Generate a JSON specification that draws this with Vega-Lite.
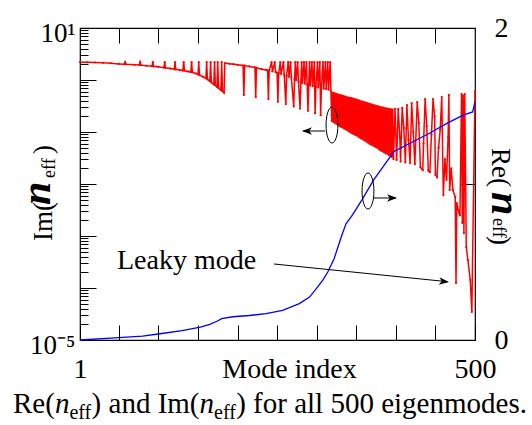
{
  "$schema": "https://vega.github.io/schema/vega-lite/v6.json",
  "width": 395,
  "height": 312,
  "autosize": {"type": "none"},
  "padding": {"left": 80, "top": 28, "right": 57, "bottom": 85},
  "background": "white",
  "config": {
    "font": "Liberation Serif",
    "view": {"stroke": "#000", "strokeWidth": 1.2},
    "axis": {
      "domain": false,
      "grid": false,
      "tickColor": "#000",
      "tickWidth": 1,
      "labelColor": "#000",
      "titleColor": "#000",
      "labelFont": "Liberation Serif",
      "titleFont": "Liberation Serif",
      "titleFontWeight": "normal",
      "labelOverlap": false,
      "labelFlush": false
    },
    "text": {"font": "Liberation Serif", "color": "#000"}
  },
  "datasets": {
    "im": [
      {"mode": 1, "im": 2.2}, {"mode": 10, "im": 2.19}, {"mode": 20, "im": 2.17}, {"mode": 30, "im": 2.14},
      {"mode": 40, "im": 2.1}, {"mode": 50, "im": 2.04}, {"mode": 57, "im": 2.01}, {"mode": 58, "im": 2.2},
      {"mode": 59, "im": 2.0}, {"mode": 70, "im": 1.96}, {"mode": 76, "im": 1.94}, {"mode": 77, "im": 2.2},
      {"mode": 78, "im": 1.93}, {"mode": 85, "im": 1.88}, {"mode": 92, "im": 1.84}, {"mode": 93, "im": 2.2},
      {"mode": 94, "im": 1.83}, {"mode": 100, "im": 1.79}, {"mode": 107, "im": 1.73}, {"mode": 108, "im": 2.2},
      {"mode": 109, "im": 1.72}, {"mode": 115, "im": 1.66}, {"mode": 120, "im": 1.61}, {"mode": 121, "im": 2.2},
      {"mode": 122, "im": 1.6}, {"mode": 127, "im": 1.56}, {"mode": 131, "im": 1.52}, {"mode": 132, "im": 2.2},
      {"mode": 133, "im": 1.51}, {"mode": 137, "im": 1.46}, {"mode": 141, "im": 1.42}, {"mode": 142, "im": 2.2},
      {"mode": 143, "im": 1.4}, {"mode": 147, "im": 1.34}, {"mode": 150, "im": 1.28}, {"mode": 151, "im": 2.2},
      {"mode": 152, "im": 1.24}, {"mode": 156, "im": 1.16}, {"mode": 160, "im": 1.08}, {"mode": 161, "im": 2.2},
      {"mode": 162, "im": 1.03}, {"mode": 165, "im": 0.95}, {"mode": 166, "im": 2.2}, {"mode": 167, "im": 0.9},
      {"mode": 170, "im": 0.82}, {"mode": 171, "im": 2.2}, {"mode": 172, "im": 0.79}, {"mode": 174, "im": 0.74},
      {"mode": 175, "im": 2.2}, {"mode": 176, "im": 0.7}, {"mode": 179, "im": 0.64}, {"mode": 180, "im": 2.2},
      {"mode": 181, "im": 0.61}, {"mode": 183, "im": 0.57},
      {"mode": 184, "im": 2.12}, {"mode": 190, "im": 2.05}, {"mode": 195, "im": 2.01}, {"mode": 200, "im": 1.96},
      {"mode": 207, "im": 1.9}, {"mode": 208, "im": 0.515}, {"mode": 209, "im": 1.89}, {"mode": 215, "im": 1.82},
      {"mode": 222, "im": 1.74}, {"mode": 223, "im": 0.47}, {"mode": 224, "im": 1.72}, {"mode": 230, "im": 1.62},
      {"mode": 236, "im": 1.56}, {"mode": 238, "im": 1.54}, {"mode": 239, "im": 0.43}, {"mode": 240, "im": 1.52},
      {"mode": 243, "im": 2.2}, {"mode": 244, "im": 1.47}, {"mode": 247, "im": 2.2}, {"mode": 248, "im": 1.42},
      {"mode": 250, "im": 1.38}, {"mode": 251, "im": 0.38}, {"mode": 252, "im": 1.35}, {"mode": 254, "im": 2.2},
      {"mode": 255, "im": 1.31}, {"mode": 258, "im": 2.2}, {"mode": 259, "im": 1.25}, {"mode": 261, "im": 0.345},
      {"mode": 262, "im": 1.2}, {"mode": 264, "im": 2.2}, {"mode": 265, "im": 1.15}, {"mode": 267, "im": 2.2},
      {"mode": 268, "im": 1.1}, {"mode": 271, "im": 0.31}, {"mode": 272, "im": 1.02}, {"mode": 273, "im": 2.2},
      {"mode": 274, "im": 0.99}, {"mode": 276, "im": 2.2}, {"mode": 277, "im": 0.94}, {"mode": 279, "im": 0.28},
      {"mode": 280, "im": 0.9}, {"mode": 281, "im": 2.2}, {"mode": 282, "im": 0.88}, {"mode": 284, "im": 2.2},
      {"mode": 285, "im": 0.85}, {"mode": 287, "im": 2.2}, {"mode": 288, "im": 0.82}, {"mode": 289, "im": 0.255},
      {"mode": 290, "im": 0.8}, {"mode": 291, "im": 2.2}, {"mode": 292, "im": 0.78}, {"mode": 294, "im": 2.2},
      {"mode": 295, "im": 0.76}, {"mode": 297, "im": 2.2}, {"mode": 298, "im": 0.23}, {"mode": 299, "im": 0.74},
      {"mode": 301, "im": 2.2}, {"mode": 302, "im": 0.72}, {"mode": 304, "im": 2.2}, {"mode": 305, "im": 0.21},
      {"mode": 306, "im": 0.7}, {"mode": 308, "im": 2.2}, {"mode": 309, "im": 0.68}, {"mode": 311, "im": 2.2},
      {"mode": 312, "im": 0.67}, {"mode": 314, "im": 2.2}, {"mode": 315, "im": 0.65}, {"mode": 317, "im": 2.2},
      {"mode": 318, "im": 0.62},
      {"mode": 319, "im": 0.163}, {"mode": 320, "im": 0.57}, {"mode": 321, "im": 0.157}, {"mode": 322, "im": 0.558},
      {"mode": 323, "im": 0.15}, {"mode": 324, "im": 0.546}, {"mode": 325, "im": 0.143}, {"mode": 326, "im": 0.534},
      {"mode": 327, "im": 0.136}, {"mode": 328, "im": 0.52}, {"mode": 329, "im": 0.13}, {"mode": 330, "im": 0.51},
      {"mode": 331, "im": 0.125}, {"mode": 332, "im": 0.5}, {"mode": 333, "im": 0.121}, {"mode": 334, "im": 0.49},
      {"mode": 335, "im": 0.116}, {"mode": 336, "im": 0.48}, {"mode": 337, "im": 0.112}, {"mode": 338, "im": 0.47},
      {"mode": 339, "im": 0.107}, {"mode": 340, "im": 0.46}, {"mode": 341, "im": 0.102}, {"mode": 342, "im": 0.451},
      {"mode": 343, "im": 0.098}, {"mode": 344, "im": 0.446}, {"mode": 345, "im": 0.094}, {"mode": 346, "im": 0.437},
      {"mode": 347, "im": 0.091}, {"mode": 348, "im": 0.428}, {"mode": 349, "im": 0.088}, {"mode": 350, "im": 0.42},
      {"mode": 351, "im": 0.085}, {"mode": 352, "im": 0.41}, {"mode": 353, "im": 0.081}, {"mode": 354, "im": 0.4},
      {"mode": 355, "im": 0.077}, {"mode": 356, "im": 0.39}, {"mode": 357, "im": 0.074}, {"mode": 358, "im": 0.382},
      {"mode": 359, "im": 0.071}, {"mode": 360, "im": 0.374}, {"mode": 361, "im": 0.068}, {"mode": 362, "im": 0.366},
      {"mode": 363, "im": 0.065}, {"mode": 364, "im": 0.358}, {"mode": 365, "im": 0.062}, {"mode": 366, "im": 0.35},
      {"mode": 367, "im": 0.059}, {"mode": 368, "im": 0.342}, {"mode": 369, "im": 0.057}, {"mode": 370, "im": 0.335},
      {"mode": 371, "im": 0.055}, {"mode": 372, "im": 0.328}, {"mode": 373, "im": 0.053}, {"mode": 374, "im": 0.322},
      {"mode": 375, "im": 0.051}, {"mode": 376, "im": 0.316}, {"mode": 377, "im": 0.049}, {"mode": 378, "im": 0.31},
      {"mode": 379, "im": 0.046}, {"mode": 380, "im": 0.303}, {"mode": 381, "im": 0.044}, {"mode": 382, "im": 0.298},
      {"mode": 383, "im": 0.043}, {"mode": 384, "im": 0.293}, {"mode": 385, "im": 0.041}, {"mode": 386, "im": 0.289},
      {"mode": 387, "im": 0.039}, {"mode": 388, "im": 0.284}, {"mode": 389, "im": 0.038}, {"mode": 390, "im": 0.28},
      {"mode": 391, "im": 0.036}, {"mode": 392, "im": 0.276}, {"mode": 393, "im": 0.035}, {"mode": 394, "im": 0.272},
      {"mode": 395, "im": 0.033}, {"mode": 396, "im": 0.268},
      {"mode": 397, "im": 0.03}, {"mode": 399, "im": 0.277}, {"mode": 401, "im": 0.029}, {"mode": 403, "im": 0.277},
      {"mode": 405, "im": 0.08}, {"mode": 406, "im": 0.027}, {"mode": 408, "im": 0.29}, {"mode": 410, "im": 0.12},
      {"mode": 412, "im": 0.026}, {"mode": 414, "im": 0.33}, {"mode": 416, "im": 0.07}, {"mode": 418, "im": 0.0253},
      {"mode": 420, "im": 0.36}, {"mode": 422, "im": 0.1}, {"mode": 424, "im": 0.024}, {"mode": 427, "im": 0.377},
      {"mode": 429, "im": 0.15}, {"mode": 431, "im": 0.021}, {"mode": 434, "im": 0.0186}, {"mode": 435, "im": 0.06},
      {"mode": 437, "im": 0.431}, {"mode": 439, "im": 0.13}, {"mode": 441, "im": 0.018}, {"mode": 443, "im": 0.017},
      {"mode": 445, "im": 0.09}, {"mode": 447, "im": 0.431}, {"mode": 449, "im": 0.2}, {"mode": 450, "im": 0.015},
      {"mode": 452, "im": 0.0136}, {"mode": 454, "im": 0.05}, {"mode": 456, "im": 0.11}, {"mode": 458, "im": 0.471},
      {"mode": 460, "im": 0.00614}, {"mode": 462, "im": 0.03}, {"mode": 464, "im": 0.012}, {"mode": 466, "im": 0.08},
      {"mode": 467, "im": 0.515}, {"mode": 468, "im": 0.00767}, {"mode": 470, "im": 0.02}, {"mode": 472, "im": 0.00767},
      {"mode": 475, "im": 0.0056}, {"mode": 476, "im": 0.000125}, {"mode": 477, "im": 0.0043}, {"mode": 480, "im": 0.00277},
      {"mode": 481, "im": 0.0025}, {"mode": 483, "im": 0.538}, {"mode": 484, "im": 0.00178}, {"mode": 485, "im": 0.5},
      {"mode": 486, "im": 0.00114}, {"mode": 487, "im": 0.538}, {"mode": 489, "im": 0.000614}, {"mode": 491, "im": 0.000345},
      {"mode": 494, "im": 0.000143}, {"mode": 496, "im": 0.0000347}, {"mode": 500, "im": 0.614}
    ],
    "re": [
      {"mode": 1, "re": 0.0}, {"mode": 40, "re": 0.012}, {"mode": 80, "re": 0.025}, {"mode": 102, "re": 0.04},
      {"mode": 130, "re": 0.06}, {"mode": 153, "re": 0.083}, {"mode": 165, "re": 0.1}, {"mode": 174, "re": 0.12},
      {"mode": 180, "re": 0.137}, {"mode": 194, "re": 0.149}, {"mode": 215, "re": 0.157}, {"mode": 236, "re": 0.169},
      {"mode": 257, "re": 0.19}, {"mode": 278, "re": 0.233}, {"mode": 291, "re": 0.275}, {"mode": 300, "re": 0.333},
      {"mode": 308, "re": 0.385}, {"mode": 314, "re": 0.436}, {"mode": 322, "re": 0.521}, {"mode": 331, "re": 0.66},
      {"mode": 337, "re": 0.745}, {"mode": 345, "re": 0.8}, {"mode": 357, "re": 0.897}, {"mode": 372, "re": 1.026},
      {"mode": 393, "re": 1.175}, {"mode": 397, "re": 1.207}, {"mode": 418, "re": 1.261}, {"mode": 443, "re": 1.327},
      {"mode": 465, "re": 1.39}, {"mode": 485, "re": 1.442}, {"mode": 497, "re": 1.462}, {"mode": 500, "re": 1.526}
    ]
  },
  "layer": [
    {
      "data": {"name": "im"},
      "mark": {"type": "line", "color": "#ff0000", "strokeWidth": 1.5, "point": {"filled": true, "size": 5, "color": "#ff0000"}},
      "encoding": {
        "x": {
          "field": "mode", "type": "quantitative",
          "scale": {"domain": [1, 500], "nice": false, "zero": false},
          "axis": {
            "orient": "bottom",
            "values": [1, 50, 100, 150, 200, 250, 300, 350, 400, 450, 500],
            "labelExpr": "datum.value == 1 || datum.value == 500 ? datum.label : ''",
            "tickSize": -15,
            "labelFontSize": 28,
            "labelBaseline": "alphabetic",
            "labelPadding": 52,
            "title": "Mode index",
            "titleFontSize": 28,
            "titleBaseline": "alphabetic",
            "titleX": 209,
            "titleY": 37
          }
        },
        "y": {
          "field": "im", "type": "quantitative",
          "scale": {"type": "log", "domain": [0.00001, 10], "nice": false},
          "axis": {
            "orient": "left",
            "values": [0.00001, 0.0001, 0.001, 0.01, 0.1, 1, 10],
            "labelExpr": "datum.value > 5 ? '10¹' : datum.value < 0.000015 ? '10⁻⁵' : ''",
            "tickSize": -16,
            "labelFontSize": 27,
            "labelPadding": 21,
            "labelBaseline": "middle",
            "labelOffset": 5,
            "title": null
          }
        }
      }
    },
    {
      "data": {"name": "im"},
      "mark": {"type": "point", "opacity": 0},
      "encoding": {
        "x": {"field": "mode", "type": "quantitative", "scale": {"domain": [1, 500], "nice": false, "zero": false}, "axis": null},
        "y": {
          "field": "im", "type": "quantitative",
          "scale": {"type": "log", "domain": [0.00001, 10], "nice": false},
          "axis": {
            "orient": "left",
            "values": [0.00002, 0.00003, 0.00004, 0.00005, 0.00006, 0.00007, 0.00008, 0.00009,
                       0.0002, 0.0003, 0.0004, 0.0005, 0.0006, 0.0007, 0.0008, 0.0009,
                       0.002, 0.003, 0.004, 0.005, 0.006, 0.007, 0.008, 0.009,
                       0.02, 0.03, 0.04, 0.05, 0.06, 0.07, 0.08, 0.09,
                       0.2, 0.3, 0.4, 0.5, 0.6, 0.7, 0.8, 0.9,
                       2, 3, 4, 5, 6, 7, 8, 9],
            "tickSize": -8,
            "labels": false,
            "title": null
          }
        }
      }
    },
    {
      "data": {"name": "re"},
      "mark": {"type": "line", "color": "#0000ff", "strokeWidth": 1.3},
      "encoding": {
        "x": {
          "field": "mode", "type": "quantitative",
          "scale": {"domain": [1, 500], "nice": false, "zero": false},
          "axis": {
            "orient": "top",
            "values": [50, 100, 150, 200, 250, 300, 350, 400, 450],
            "tickSize": -15,
            "labels": false,
            "title": null
          }
        },
        "y": {
          "field": "re", "type": "quantitative",
          "scale": {"domain": [0, 2], "nice": false, "zero": false},
          "axis": {
            "orient": "right",
            "values": [0, 1, 2],
            "labelExpr": "datum.value == 1 ? '' : format(datum.value, 'd')",
            "tickSize": -15,
            "labelFontSize": 28,
            "labelPadding": 34,
            "labelBaseline": "middle",
            "title": null
          }
        }
      }
    },
    {
      "encoding": {
        "x": {"field": "x", "type": "quantitative", "scale": {"domain": [1, 500], "nice": false, "zero": false}, "axis": null},
        "y": {"field": "y", "type": "quantitative", "scale": {"domain": [0, 2], "nice": false, "zero": false}, "axis": null}
      },
      "layer": [
        {
          "data": {"values": [
            {"x": 310.5, "y": 1.3397, "x2": 283.0, "y2": 1.3397},
            {"x": 372.41, "y": 0.9103, "x2": 400.0, "y2": 0.9103},
            {"x": 246.08, "y": 0.4872, "x2": 465.5, "y2": 0.3735}
          ]},
          "mark": {"type": "rule", "color": "#000", "strokeWidth": 1},
          "encoding": {"x2": {"field": "x2"}, "y2": {"field": "y2"}}
        },
        {
          "data": {"values": [
            {"x": 281.45, "y": 1.3397, "dir": 180},
            {"x": 401.46, "y": 0.9103, "dir": 0},
            {"x": 467.15, "y": 0.3718, "dir": 5.9}
          ]},
          "mark": {"type": "point", "shape": "M0,0 L-2,-0.75 L-1.45,0 L-2,0.75 Z", "size": 100, "filled": true, "color": "#000", "opacity": 1},
          "encoding": {"angle": {"field": "dir", "type": "quantitative", "scale": null}}
        },
        {
          "data": {"values": [
            {"x": 319.35, "y": 1.3782},
            {"x": 364.83, "y": 0.9551}
          ]},
          "mark": {"type": "point", "shape": "M0,-1 A0.33,1 0 1,1 0,1 A0.33,1 0 1,1 0,-1 Z", "size": 1296, "filled": false, "color": "#000", "strokeWidth": 1, "opacity": 1}
        },
        {
          "data": {"values": [{"x": 47.74, "y": 0.4551, "t": "Leaky mode"}]},
          "mark": {"type": "text", "font": "Liberation Serif", "fontSize": 28, "align": "left", "baseline": "alphabetic"},
          "encoding": {"text": {"field": "t"}}
        },
        {
          "data": {"values": [
            {"x": -83.64, "y": -0.468, "t": "Re("},
            {"x": 15.65, "y": -0.468, "t": ") and Im("},
            {"x": 198.33, "y": -0.468, "t": ") for all 500 eigenmodes."}
          ]},
          "mark": {"type": "text", "font": "Liberation Serif", "fontSize": 29, "align": "left", "baseline": "alphabetic"},
          "encoding": {"text": {"field": "t"}}
        },
        {
          "data": {"values": [
            {"x": -30.71, "y": -0.468, "t": "n"},
            {"x": 151.96, "y": -0.468, "t": "n"}
          ]},
          "mark": {"type": "text", "font": "Liberation Serif", "fontSize": 29, "fontStyle": "italic", "align": "left", "baseline": "alphabetic"},
          "encoding": {"text": {"field": "t"}}
        },
        {
          "data": {"values": [
            {"x": -12.39, "y": -0.506, "t": "eff"},
            {"x": 170.28, "y": -0.506, "t": "eff"}
          ]},
          "mark": {"type": "text", "font": "Liberation Serif", "fontSize": 20, "align": "left", "baseline": "alphabetic"},
          "encoding": {"text": {"field": "t"}}
        },
        {
          "data": {"values": [
            {"x": -34.37, "y": 0.6346, "t": "Im("},
            {"x": -34.37, "y": 1.1923, "t": ")"}
          ]},
          "mark": {"type": "text", "font": "Liberation Serif", "fontSize": 27, "angle": -90, "align": "left", "baseline": "alphabetic"},
          "encoding": {"text": {"field": "t"}}
        },
        {
          "data": {"values": [{"x": -36.9, "y": 0.8654, "t": "n"}]},
          "mark": {"type": "text", "font": "Liberation Serif", "fontSize": 42, "fontStyle": "italic", "fontWeight": "bold", "angle": -90, "align": "left", "baseline": "alphabetic"},
          "encoding": {"text": {"field": "t"}}
        },
        {
          "data": {"values": [{"x": -30.58, "y": 1.0385, "t": "eff"}]},
          "mark": {"type": "text", "font": "Liberation Serif", "fontSize": 18, "angle": -90, "align": "left", "baseline": "alphabetic"},
          "encoding": {"text": {"field": "t"}}
        },
        {
          "data": {"values": [
            {"x": 521.48, "y": 1.2308, "t": "Re("},
            {"x": 521.48, "y": 0.6667, "t": ")"}
          ]},
          "mark": {"type": "text", "font": "Liberation Serif", "fontSize": 27, "angle": 90, "align": "left", "baseline": "alphabetic"},
          "encoding": {"text": {"field": "t"}}
        },
        {
          "data": {"values": [{"x": 521.48, "y": 0.9487, "t": "n"}]},
          "mark": {"type": "text", "font": "Liberation Serif", "fontSize": 42, "fontStyle": "italic", "fontWeight": "bold", "angle": 90, "align": "left", "baseline": "alphabetic"},
          "encoding": {"text": {"field": "t"}}
        },
        {
          "data": {"values": [{"x": 522.7, "y": 0.7821, "t": "eff"}]},
          "mark": {"type": "text", "font": "Liberation Serif", "fontSize": 18, "angle": 90, "align": "left", "baseline": "alphabetic"},
          "encoding": {"text": {"field": "t"}}
        }
      ]
    }
  ],
  "resolve": {"scale": {"x": "independent", "y": "independent"}}
}
